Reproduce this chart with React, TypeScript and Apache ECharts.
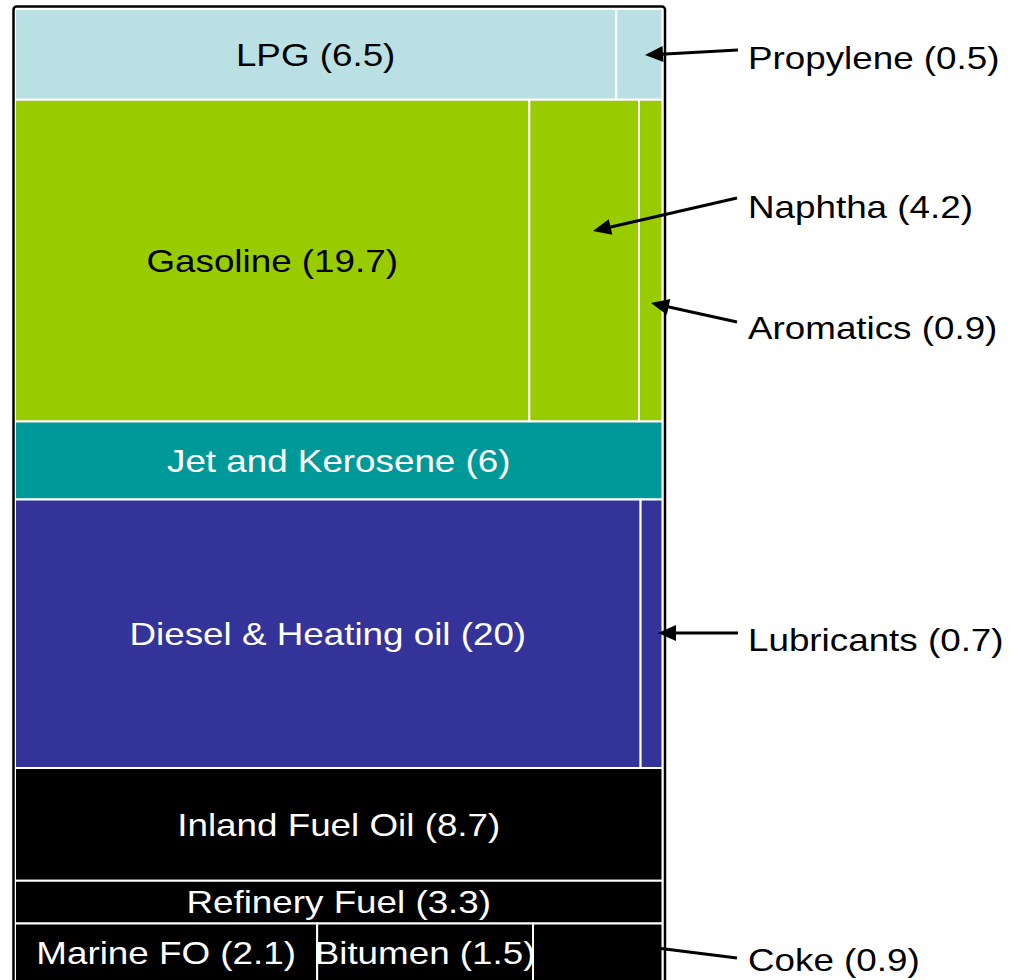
import React, { useEffect, useRef } from "react";
import * as echarts from "echarts";

// ---- data ----
const categories = [
  "LPG", "Propylene",
  "Gasoline", "Naphtha", "Aromatics",
  "Jet and Kerosene",
  "Diesel & Heating oil", "Lubricants",
  "Inland Fuel Oil",
  "Refinery Fuel",
  "Marine FO", "Bitumen", "Coke",
];
const values = [6.5, 0.5, 19.7, 4.2, 0.9, 6, 20, 0.7, 8.7, 3.3, 2.1, 1.5, 0.9];
const rowOf = [0, 0, 1, 1, 1, 2, 3, 3, 4, 5, 6, 6, 6];
const rowColors = ["#BAE0E3", "#99CC00", "#009999", "#333399", "#000000", "#000000", "#000000"];
const rowTextColors = ["#000000", "#000000", "#ffffff", "#ffffff", "#ffffff", "#ffffff", "#ffffff"];
const insideLabel = [true, false, true, false, false, true, true, false, true, true, true, true, false];
const calloutNames = ["Propylene", "Naphtha", "Aromatics", "Lubricants", "Coke"];

const label = (i: number) => `${categories[i]} (${values[i]})`;

export default function App() {
  const ref = useRef<HTMLDivElement>(null);
  useEffect(() => {
    const chart = echarts.init(ref.current!, null, { renderer: "svg" });

    const nRows = Math.max(...rowOf) + 1;
    const rowTotal: number[] = new Array(nRows).fill(0);
    values.forEach((v, i) => (rowTotal[rowOf[i]] += v));
    const rowStart: number[] = [];
    let acc = 0;
    for (let r = 0; r < nRows; r++) { rowStart.push(acc); acc += rowTotal[r]; }
    const grandTotal = acc;
    const inRow: number[] = new Array(nRows).fill(0);
    const cells = values.map((v, i) => {
      const r = rowOf[i];
      const x0 = inRow[r] / rowTotal[r];
      inRow[r] += v;
      const x1 = inRow[r] / rowTotal[r];
      return [x0, rowStart[r], x1, rowStart[r] + rowTotal[r]];
    });

    const FS = 32;
    const SX = 1.15;
    const font = { fontFamily: "Liberation Sans, Arial, sans-serif", fontSize: FS };

    const arrow = (x1: number, y1: number, x2: number, y2: number, head = true) => {
      const dx = x2 - x1, dy = y2 - y1;
      const len = Math.sqrt(dx * dx + dy * dy);
      const ux = dx / len, uy = dy / len;
      const hl = 18, hw = 8;
      const bx = x2 - ux * hl, by = y2 - uy * hl;
      const els: any[] = [
        { type: "line", shape: { x1, y1, x2: head ? bx + ux * 2 : x2, y2: head ? by + uy * 2 : y2 }, style: { stroke: "#000", lineWidth: 3 }, z: 110 },
      ];
      if (head) {
        els.push({
          type: "polygon",
          shape: { points: [[x2, y2], [bx - uy * hw, by + ux * hw], [bx + uy * hw, by - ux * hw]] },
          style: { fill: "#000" },
          z: 110,
        });
      }
      return els;
    };

    const calloutPos: Record<string, { ty: number; a: number[]; head: boolean }> = {
      Propylene: { ty: 58, a: [738, 50, 645, 55], head: true },
      Naphtha: { ty: 207, a: [737, 198, 593, 231], head: true },
      Aromatics: { ty: 328, a: [737, 322, 651, 303], head: true },
      Lubricants: { ty: 640, a: [738, 633, 658, 633], head: true },
      Coke: { ty: 960, a: [737, 958, 625, 944], head: true },
    };

    const graphics: any[] = [
      {
        type: "rect",
        shape: { x: 13.5, y: 6.5, width: 651.5, height: 1000, r: 3 },
        style: { fill: "none", stroke: "#000", lineWidth: 2.5 },
        z: 100,
      },
    ];
    calloutNames.forEach((n) => {
      const i = categories.indexOf(n);
      const p = calloutPos[n];
      graphics.push({
        type: "text",
        x: 748,
        y: p.ty,
        scaleX: SX,
        style: { text: label(i), fill: "#000", ...font, align: "left", verticalAlign: "middle" },
        z: 110,
      });
      graphics.push(...arrow(p.a[0], p.a[1], p.a[2], p.a[3], p.head));
    });

    chart.setOption({
      animation: false,
      backgroundColor: "#ffffff",
      grid: { left: 15, top: 9, width: 647.5, height: 973 },
      xAxis: { type: "value", min: 0, max: 1, show: false },
      yAxis: { type: "value", min: 0, max: grandTotal, inverse: true, show: false },
      series: [
        {
          type: "custom",
          clip: false,
          encode: { x: [0, 2], y: [1, 3] },
          data: cells,
          renderItem: (params: any, api: any) => {
            const i = params.dataIndex;
            const r = rowOf[i];
            const p0 = api.coord([api.value(0), api.value(1)]);
            const p1 = api.coord([api.value(2), api.value(3)]);
            const w = p1[0] - p0[0];
            const h = p1[1] - p0[1];
            const children: any[] = [
              {
                type: "rect",
                shape: { x: p0[0], y: p0[1], width: w, height: h },
                style: { fill: rowColors[r], stroke: "#ffffff", lineWidth: 2 },
              },
            ];
            if (insideLabel[i]) {
              children.push({
                type: "text",
                x: p0[0] + w / 2,
                y: p0[1] + h / 2,
                scaleX: SX,
                style: { text: label(i), fill: rowTextColors[r], ...font, align: "center", verticalAlign: "middle" },
                z2: 10,
              });
            }
            return { type: "group", children };
          },
        },
      ],
      graphic: graphics,
    });
    return () => chart.dispose();
  }, []);
  return (
    <div
      ref={ref}
      style={{ position: "fixed", left: 0, top: 0, width: 1009, height: 1000, background: "#fff" }}
    />
  );
}
